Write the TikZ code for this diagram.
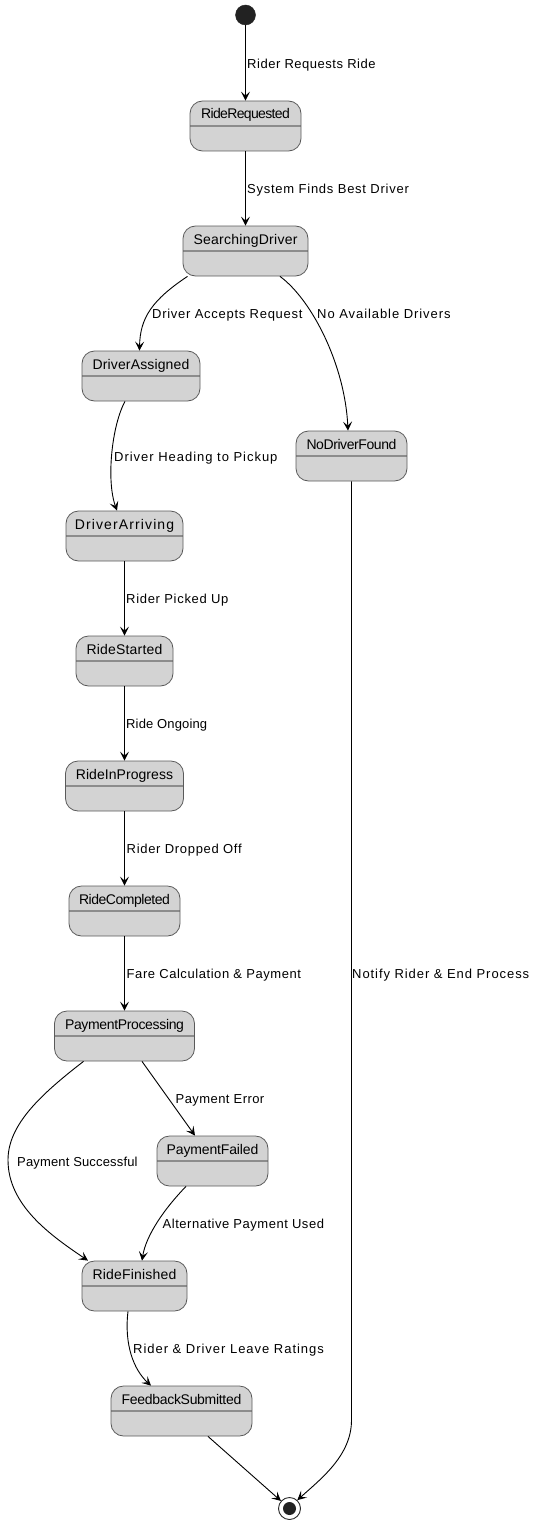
\documentclass[tikz,border=0pt]{standalone}
\usepackage{fontspec}
\setmainfont{Liberation Sans}
\usetikzlibrary{arrows.meta}
\definecolor{statefill}{HTML}{D3D3D3}
\definecolor{stateborder}{HTML}{5A5A5A}
\definecolor{divgray}{HTML}{8C8C8C}
\definecolor{dotfill}{HTML}{222222}
% set #2 letter-spaced so that it is about #1 pt wide
\newcommand\fitw[2]{%
  \setbox0\hbox{#2}%
  \setbox2\hbox{\addfontfeature{LetterSpace=10}#2}%
  \pgfmathsetmacro\fitls{10*((#1)-\the\wd0)/(\the\wd2-\the\wd0)}%
  {\addfontfeature{LetterSpace=\fitls}#2}}
\tikzset{
  statebox/.style={draw=stateborder, fill=statefill, rounded corners=12.5pt, line width=0.8pt,
    inner sep=0pt, minimum height=50pt, text height=18pt, text depth=32pt,
    font=\fontsize{14}{16}\selectfont, text=black,
    path picture={\draw[divgray, line width=1.6pt] (path picture bounding box.west) -- (path picture bounding box.east);}},
  edgelbl/.style={anchor=west, inner sep=0pt, text height=8.6pt, text depth=0pt,
    font=\fontsize{13}{15}\selectfont, text=black},
  trans/.style={draw=black, line width=0.9pt, -{Stealth[length=9pt,width=9pt,inset=4pt]}},
}
\begin{document}
\begin{tikzpicture}[x=1pt,y=-1pt]
\useasboundingbox (0,0) rectangle (538,1525);
% start / end
\node[circle, fill=dotfill, draw=dotfill, minimum size=20pt, inner sep=0pt] (startst) at (245.5,15) {};
\node[circle, fill=white, draw=black!85, line width=0.9pt, minimum size=22pt, inner sep=0pt] (endst) at (289.5,1508.5) {};
\node[circle, fill=dotfill, minimum size=13pt, inner sep=0pt] (enddot) at (endst.center) {};
% states
\node[statebox, minimum width=111pt] (rr)  at (245.5,126)  {\fitw{88.6}{RideRequested}};
\node[statebox, minimum width=125pt] (sd)  at (245.5,251)  {\fitw{104}{SearchingDriver}};
\node[statebox, minimum width=118pt] (da)  at (141,376)    {\fitw{96.7}{DriverAssigned}};
\node[statebox, minimum width=111pt] (nd)  at (351.5,456)  {\fitw{90}{NoDriverFound}};
\node[statebox, minimum width=117pt] (dar) at (124.5,536)  {\fitw{99.4}{DriverArriving}};
\node[statebox, minimum width=97pt]  (rs)  at (124.5,661)  {\fitw{76}{RideStarted}};
\node[statebox, minimum width=118pt] (rip) at (124.5,786)  {\fitw{97.3}{RideInProgress}};
\node[statebox, minimum width=111pt] (rc)  at (124.5,911)  {\fitw{91}{RideCompleted}};
\node[statebox, minimum width=140pt] (pp)  at (124.5,1036) {\fitw{119}{PaymentProcessing}};
\node[statebox, minimum width=111pt] (pf)  at (212.5,1161) {\fitw{91.6}{PaymentFailed}};
\node[statebox, minimum width=105pt] (rf)  at (134.5,1286) {\fitw{83.7}{RideFinished}};
\node[statebox, minimum width=141pt] (fs)  at (181.5,1411) {\fitw{119.6}{FeedbackSubmitted}};
\coordinate (ndturn) at (351.5,1420);
% transitions
\draw[trans] (startst) -- (rr);
\draw[trans] (rr) -- (sd);
\draw[trans] ([xshift=-58pt]sd.south) .. controls (152,300) and (140,318) .. ([xshift=-1.5pt]da.north);
\draw[trans] ([xshift=34.5pt]sd.south) .. controls (312,300) and (345,365) .. ([xshift=-3.5pt]nd.north);
\draw[trans] ([xshift=-16pt]da.south) .. controls (112,425) and (106,480) .. ([xshift=-7.5pt]dar.north);
\draw[trans] (dar) -- (rs);
\draw[trans] (rs) -- (rip);
\draw[trans] (rip) -- (rc);
\draw[trans] (rc) -- (pp);
\draw[trans] ([xshift=17.5pt]pp.south) -- ([xshift=-17.5pt]pf.north);
\draw[trans] ([xshift=-41pt]pp.south) .. controls (40,1095) and (8,1125) .. (8,1160) .. controls (8,1205) and (50,1235) .. ([xshift=-46.5pt]rf.north);
\draw[trans] ([xshift=-26.5pt]pf.south) .. controls (165,1208) and (146,1235) .. ([xshift=7.5pt]rf.north);
\draw[trans] ([xshift=-6.5pt]rf.south) .. controls (124,1345) and (134,1370) .. ([xshift=-30.5pt]fs.north);
\draw[trans] ([xshift=26.5pt]fs.south) -- (endst);
\draw[trans] (nd.south) -- (ndturn) .. controls (351.5,1455) and (322,1478) .. (endst.47);
% labels
\node[edgelbl] (l1)  at (247,64)   {\fitw{128.4}{Rider Requests Ride}};
\node[edgelbl] (l2)  at (247,189)  {\fitw{161.7}{System Finds Best Driver}};
\node[edgelbl] (l3)  at (152,314)  {\fitw{150.3}{Driver Accepts Request}};
\node[edgelbl] (l4)  at (317,314)  {\fitw{133.4}{No Available Drivers}};
\node[edgelbl] (l5)  at (114,457)  {\fitw{163.3}{Driver Heading to Pickup}};
\node[edgelbl] (l6)  at (126,599)  {\fitw{102.3}{Rider Picked Up}};
\node[edgelbl] (l7)  at (126,724)  {\fitw{81}{Ride Ongoing}};
\node[edgelbl] (l8)  at (126.5,849)  {\fitw{115}{Rider Dropped Off}};
\node[edgelbl] (l9)  at (126.5,974)  {\fitw{174.3}{Fare Calculation \& Payment}};
\node[edgelbl] (l10) at (352,974)  {\fitw{177}{Notify Rider \& End Process}};
\node[edgelbl] (l11) at (175.5,1099) {\fitw{88.6}{Payment Error}};
\node[edgelbl] (l12) at (17,1162)  {\fitw{120.4}{Payment Successful}};
\node[edgelbl] (l13) at (162.5,1224) {\fitw{161.3}{Alternative Payment Used}};
\node[edgelbl] (l14) at (133,1349) {\fitw{190.7}{Rider \& Driver Leave Ratings}};
\end{tikzpicture}
\end{document}
